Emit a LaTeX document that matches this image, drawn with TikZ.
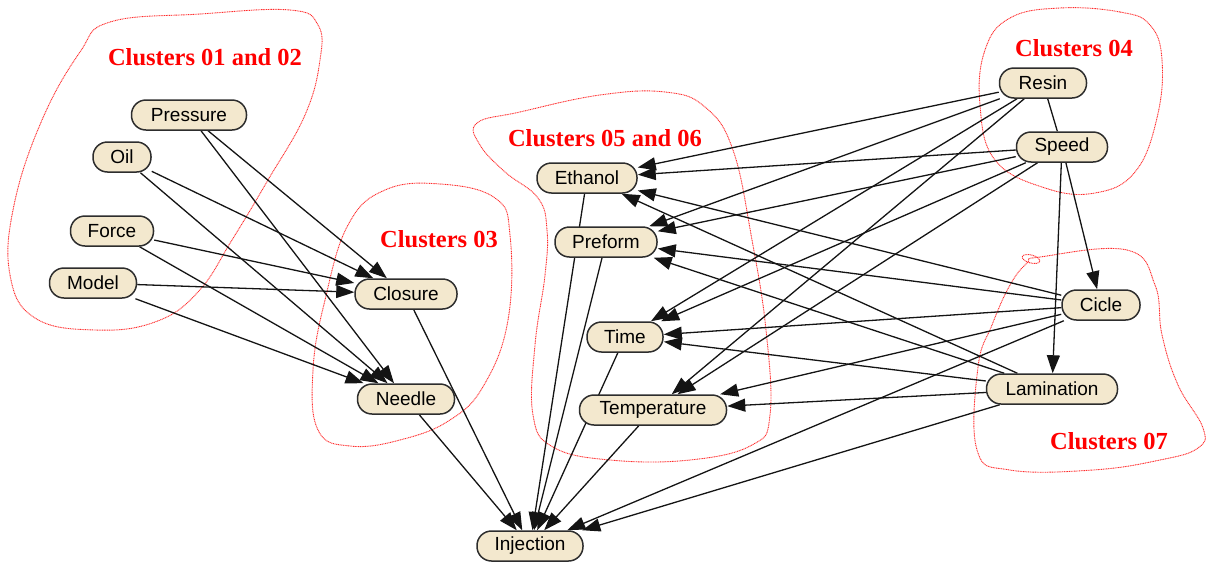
\documentclass[tikz,border=0pt]{standalone}
\usepackage{fontspec}
\setmainfont{Liberation Serif}
\newfontfamily\nodefont{Liberation Sans}
\usetikzlibrary{arrows.meta}
\definecolor{nodefill}{RGB}{243,232,206}
\definecolor{nodeedge}{RGB}{45,45,45}
\definecolor{clusterred}{RGB}{255,45,45}
\definecolor{edgeink}{RGB}{20,20,20}
\pgfdeclarelayer{background}
\pgfsetlayers{background,main}
\begin{document}
\begin{tikzpicture}[x=1pt,y=-1pt,
  var/.style={draw=nodeedge, line width=1.5pt, fill=nodefill, rounded corners=14.5pt,
    minimum height=30pt, inner sep=0pt, font=\nodefont\fontsize{19}{19}\selectfont, text=black},
  link/.style={draw=edgeink, line width=1.3pt, -{Triangle[length=18pt,width=13pt]}},
  plain/.style={draw=edgeink, line width=1.3pt},
  outline/.style={draw=clusterred, line width=0.9pt, dash pattern=on 1pt off 0.7pt},
  tag/.style={text=red, font=\bfseries\fontsize{24.5}{24.5}\selectfont, inner sep=0pt}]
\useasboundingbox (0,0) rectangle (1207,563);

% variables
\node[var, minimum width=115pt] (P)  at (189,115) {Pressure};
\node[var, minimum width=58pt]  (O)  at (122,157) {Oil};
\node[var, minimum width=83pt]  (F)  at (112,231) {Force};
\node[var, minimum width=87pt]  (M)  at (93,283)  {Model};
\node[var, minimum width=102pt] (C)  at (406,294) {Closure};
\node[var, minimum width=97pt]  (N)  at (406,399) {Needle};
\node[var, minimum width=106pt] (I)  at (530,546) {Injection};
\node[var, minimum width=100pt] (E)  at (587,178) {Ethanol};
\node[var, minimum width=102pt] (Pf) at (606,242) {Preform};
\node[var, minimum width=76pt]  (T)  at (625,337) {Time};
\node[var, minimum width=147pt] (Te) at (653,410) {Temperature};
\node[var, minimum width=87pt]  (R)  at (1043,83) {Resin};
\node[var, minimum width=91pt]  (S)  at (1062,147) {Speed};
\node[var, minimum width=78pt]  (Ci) at (1101,305) {Cicle};
\node[var, minimum width=131pt] (L)  at (1052,389) {Lamination};

% cluster captions
\node[tag] (t12) at (205,57)   {Clusters 01 and 02};
\node[tag] (t3)  at (439,239)  {Clusters 03};
\node[tag] (t56) at (605,138)  {Clusters 05 and 06};
\node[tag] (t4)  at (1074,48)  {Clusters 04};
\node[tag] (t7)  at (1109,441) {Clusters 07};

\begin{pgfonlayer}{background}
% cluster outlines
\draw[outline] plot[smooth cycle, tension=0.7] coordinates {
  (110,22) (200,14) (290,10) (318,25) (320,60) (305,115) (268,180) (232,240)
  (198,292) (155,322) (95,330) (35,318) (10,275) (14,205) (42,120) (80,52)};
\draw[outline] plot[smooth cycle, tension=0.7] coordinates {
  (385,190) (440,184) (495,198) (510,235) (508,320) (484,385) (450,420)
  (400,440) (350,446) (318,430) (313,370) (325,300) (348,225)};
\draw[outline] plot[smooth cycle, tension=0.7] coordinates {
  (477,123) (520,112) (600,95) (665,92) (705,107) (733,150) (752,240) (766,330)
  (770,415) (752,445) (690,460) (610,460) (553,447) (533,415) (535,345)
  (545,275) (547,230) (538,198) (505,172) (480,145)};
\draw[outline] plot[smooth cycle, tension=0.7] coordinates {
  (1060,8) (1120,12) (1150,25) (1162,60) (1157,118) (1135,172) (1095,193)
  (1045,188) (995,160) (980,105) (985,50) (1010,18)};
\draw[outline] plot[smooth cycle, tension=0.7] coordinates {
  (1040,257) (1127,250) (1155,285) (1162,335) (1178,385) (1203,428) (1198,448)
  (1160,460) (1093,470) (1010,470) (977,450) (978,367) (992,325) (1010,285)
  (1027,263)};
\draw[outline, rotate around={-15:(1031,259)}] (1031,259) ellipse [x radius=9pt, y radius=4pt];

% dependencies
\draw[link] (P) -- (C);
\draw[link] (P) -- (N);
\draw[link] (O) -- (C);
\draw[link] (O) -- (N);
\draw[link] (F) -- (C);
\draw[link] (F) -- (N);
\draw[link] (M) -- (C);
\draw[link] (M) -- (N);
\draw[link] (C) -- (I);
\draw[link] (N) -- (I);
\draw[link] (E) -- (I);
\draw[link] (Pf) -- (I);
\draw[link] (T) -- (I);
\draw[link] (Te) -- (I);
\draw[link] (Ci) -- (I);
\draw[link] (L) -- (I);
\draw[link] (R) -- (E);
\draw[link] (R) -- (Pf);
\draw[link] (R) -- (T);
\draw[link] (R) -- (Te);
\draw[plain] (R) -- (S);
\draw[link] (S) -- (E);
\draw[link] (S) -- (Pf);
\draw[link] (S) -- (T);
\draw[link] (S) -- (Te);
\draw[link] (S) -- (Ci);
\draw[link] (S) -- (L);
\draw[link] (Ci) -- (E);
\draw[link] (Ci) -- (Pf);
\draw[link] (Ci) -- (T);
\draw[link] (Ci) -- (Te);
\draw[link] (L) -- (E);
\draw[link] (L) -- (Pf);
\draw[link] (L) -- (T);
\draw[link] (L) -- (Te);
\end{pgfonlayer}
\end{tikzpicture}
\end{document}
